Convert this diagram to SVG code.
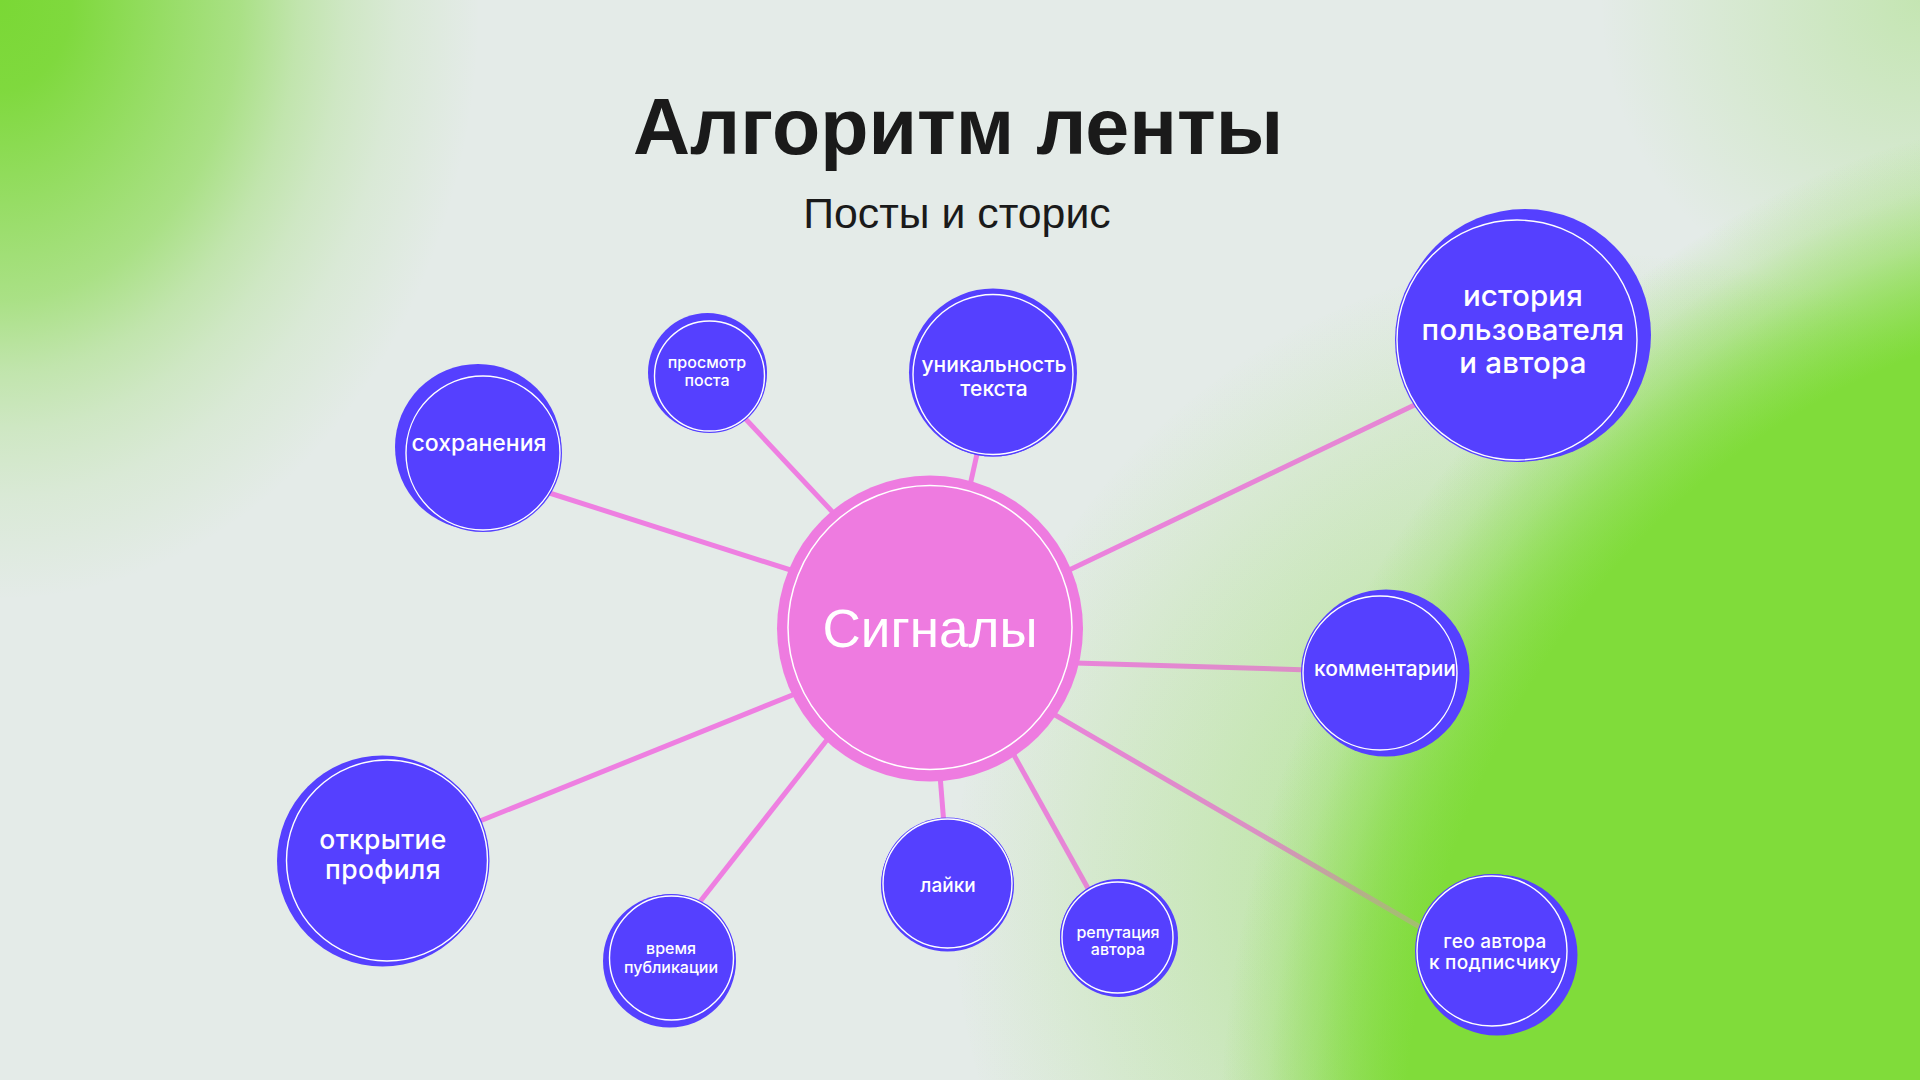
<svg xmlns="http://www.w3.org/2000/svg" width="1920" height="1080" viewBox="0 0 1920 1080">
  <defs>
    <radialGradient id="gTL" gradientUnits="userSpaceOnUse" cx="0" cy="0" r="1" gradientTransform="translate(0,0) scale(480,600)">
      <stop offset="0" stop-color="#7ad835" stop-opacity="1"/>
      <stop offset="0.15" stop-color="#7ad835" stop-opacity="0.95"/>
      <stop offset="0.35" stop-color="#7ad835" stop-opacity="0.72"/>
      <stop offset="0.5" stop-color="#7ad835" stop-opacity="0.55"/>
      <stop offset="0.62" stop-color="#7ad835" stop-opacity="0.33"/>
      <stop offset="0.72" stop-color="#7ad835" stop-opacity="0.2"/>
      <stop offset="0.83" stop-color="#7ad835" stop-opacity="0.1"/>
      <stop offset="1" stop-color="#7ad835" stop-opacity="0"/>
    </radialGradient>
    <radialGradient id="gTR" gradientUnits="userSpaceOnUse" cx="1920" cy="0" r="320">
      <stop offset="0" stop-color="#7ad835" stop-opacity="0.3"/>
      <stop offset="1" stop-color="#7ad835" stop-opacity="0"/>
    </radialGradient>
    <radialGradient id="gBRunder" gradientUnits="userSpaceOnUse" cx="0" cy="0" r="1" gradientTransform="translate(2150,1150) scale(931,1045)">
      <stop offset="0" stop-color="#80dc3a" stop-opacity="1"/>
      <stop offset="0.8" stop-color="#80dc3a" stop-opacity="1"/>
      <stop offset="0.85" stop-color="#80dc3a" stop-opacity="0.615"/>
      <stop offset="0.9" stop-color="#80dc3a" stop-opacity="0.286"/>
      <stop offset="0.95" stop-color="#80dc3a" stop-opacity="0.091"/>
      <stop offset="1" stop-color="#80dc3a" stop-opacity="0"/>
    </radialGradient>
    <radialGradient id="gBRover" gradientUnits="userSpaceOnUse" cx="0" cy="0" r="1" gradientTransform="translate(2150,1150) scale(931,1045)">
      <stop offset="0" stop-color="#80dc3a" stop-opacity="0.6"/>
      <stop offset="0.8" stop-color="#80dc3a" stop-opacity="0.6"/>
      <stop offset="0.85" stop-color="#80dc3a" stop-opacity="0.48"/>
      <stop offset="0.9" stop-color="#80dc3a" stop-opacity="0.3"/>
      <stop offset="0.95" stop-color="#80dc3a" stop-opacity="0.12"/>
      <stop offset="1" stop-color="#80dc3a" stop-opacity="0"/>
    </radialGradient>
    <radialGradient id="gTailUnder" gradientUnits="userSpaceOnUse" cx="1600" cy="900" r="650">
      <stop offset="0" stop-color="#80dc3a" stop-opacity="0.426"/>
      <stop offset="0.5" stop-color="#80dc3a" stop-opacity="0.161"/>
      <stop offset="1" stop-color="#80dc3a" stop-opacity="0"/>
    </radialGradient>
    <radialGradient id="gTailOver" gradientUnits="userSpaceOnUse" cx="1600" cy="900" r="650">
      <stop offset="0" stop-color="#80dc3a" stop-opacity="0.39"/>
      <stop offset="0.5" stop-color="#80dc3a" stop-opacity="0.195"/>
      <stop offset="1" stop-color="#80dc3a" stop-opacity="0"/>
    </radialGradient>
  </defs>
  <style>
    .blue { fill: #5540ff; }
    .ring { fill: none; stroke: #ffffff; stroke-width: 1.4; }
    .lbl { fill: #ffffff; font-family: Inter, "Liberation Sans", sans-serif; font-weight: 500; text-anchor: middle; }
    .conn { stroke: #ee7fe1; stroke-width: 5; stroke-linecap: butt; fill: none; }
    .title { fill: #1a1a1a; font-family: "Liberation Sans", Arial, sans-serif; text-anchor: middle; }
  </style>

  <g id="background">
    <rect x="0" y="0" width="1920" height="1080" fill="#e4ebe8"/>
    <rect x="0" y="0" width="1920" height="1080" fill="url(#gTL)"/>
    <rect x="0" y="0" width="1920" height="1080" fill="url(#gTR)"/>
    <rect x="0" y="0" width="1920" height="1080" fill="url(#gTailUnder)"/>
    <rect x="0" y="0" width="1920" height="1080" fill="url(#gBRunder)"/>
  </g>

  <g id="connectors">
    <line class="conn" x1="540" y1="490" x2="800" y2="573"/>
    <line class="conn" x1="740" y1="413" x2="840" y2="520"/>
    <line class="conn" x1="979" y1="445" x2="969" y2="490"/>
    <line class="conn" x1="1065" y1="572" x2="1425" y2="400"/>
    <line class="conn" x1="1075" y1="663" x2="1310" y2="670"/>
    <line class="conn" x1="1050" y1="712" x2="1425" y2="930"/>
    <line class="conn" x1="1010" y1="748" x2="1090" y2="892"/>
    <line class="conn" x1="940" y1="775" x2="944" y2="825"/>
    <line class="conn" x1="830" y1="736" x2="695" y2="908"/>
    <line class="conn" x1="800" y1="692" x2="470" y2="825"/>
  </g>

  <g id="green-glow">
    <rect x="0" y="0" width="1920" height="1080" fill="url(#gTailOver)"/>
    <rect x="0" y="0" width="1920" height="1080" fill="url(#gBRover)"/>
  </g>

  <g id="title">
    <text class="title" x="958" y="154" font-size="79" font-weight="700">Алгоритм ленты</text>
    <text class="title" x="957" y="228" font-size="42.8">Посты и сторис</text>
  </g>

  <g id="node-signals">
    <circle cx="930" cy="628.5" r="153" fill="#ee7be0"/>
    <circle cx="930" cy="627.5" r="142" fill="none" stroke="#ffffff" stroke-width="1.5"/>
    <text x="930" y="647" font-family="'Liberation Sans', Arial, sans-serif" font-size="53" fill="#ffffff" text-anchor="middle">Сигналы</text>
  </g>

  <g id="node-saves">
    <circle class="blue" cx="478" cy="447" r="83"/>
    <circle class="blue" cx="483" cy="453" r="79"/>
    <circle class="ring" cx="483" cy="453" r="77"/>
    <text class="lbl" x="479" y="451" font-size="23">сохранения</text>
  </g>

  <g id="node-post-view">
    <circle class="blue" cx="707.5" cy="372.5" r="59.5"/>
    <circle class="blue" cx="709.5" cy="376" r="57"/>
    <circle class="ring" cx="709.5" cy="376" r="55"/>
    <text class="lbl" font-size="16"><tspan x="707" y="368">просмотр</tspan><tspan x="707" y="386">поста</tspan></text>
  </g>

  <g id="node-uniqueness">
    <circle class="blue" cx="993" cy="372.5" r="84"/>
    <circle class="blue" cx="993" cy="374.5" r="82"/>
    <circle class="ring" cx="993" cy="374.5" r="80"/>
    <text class="lbl" font-size="21"><tspan x="994" y="372">уникальность</tspan><tspan x="994" y="396">текста</tspan></text>
  </g>

  <g id="node-history">
    <circle class="blue" cx="1525" cy="335" r="126"/>
    <circle class="blue" cx="1517" cy="340" r="122"/>
    <circle class="ring" cx="1517" cy="340" r="120"/>
    <text class="lbl" font-size="29.5" letter-spacing="0.2"><tspan x="1523" y="306">история</tspan><tspan x="1523" y="339.5">пользователя</tspan><tspan x="1523" y="373">и автора</tspan></text>
  </g>

  <g id="node-comments">
    <circle class="blue" cx="1386" cy="673" r="83.5"/>
    <circle class="blue" cx="1380" cy="673" r="79"/>
    <circle class="ring" cx="1380" cy="673" r="77"/>
    <text class="lbl" x="1385" y="676" font-size="21">комментарии</text>
  </g>

  <g id="node-geo">
    <circle class="blue" cx="1497" cy="955" r="80.5"/>
    <circle class="blue" cx="1492" cy="951" r="77"/>
    <circle class="ring" cx="1492" cy="951" r="75"/>
    <text class="lbl" font-size="19" letter-spacing="0.3"><tspan x="1495" y="947.5">гео автора</tspan><tspan x="1495" y="968.5">к подписчику</tspan></text>
  </g>

  <g id="node-reputation">
    <circle class="blue" cx="1119" cy="938" r="59"/>
    <circle class="blue" cx="1117.5" cy="937.5" r="57.5"/>
    <circle class="ring" cx="1117.5" cy="937.5" r="55.5"/>
    <text class="lbl" font-size="16"><tspan x="1118" y="938">репутация</tspan><tspan x="1118" y="955">автора</tspan></text>
  </g>

  <g id="node-likes">
    <circle class="blue" cx="947.5" cy="885" r="66.5"/>
    <circle class="blue" cx="947.5" cy="883.5" r="66"/>
    <circle class="ring" cx="947.5" cy="883.5" r="64.5"/>
    <text class="lbl" x="948" y="892" font-size="19">лайки</text>
  </g>

  <g id="node-publish-time">
    <circle class="blue" cx="669.5" cy="961" r="66.5"/>
    <circle class="blue" cx="671.5" cy="958" r="64"/>
    <circle class="ring" cx="671.5" cy="958" r="62"/>
    <text class="lbl" font-size="16"><tspan x="671" y="954">время</tspan><tspan x="671" y="973">публикации</tspan></text>
  </g>

  <g id="node-profile-open">
    <circle class="blue" cx="382.5" cy="861" r="105.5"/>
    <circle class="blue" cx="387" cy="860.5" r="102.5"/>
    <circle class="ring" cx="387" cy="860.5" r="100.5"/>
    <text class="lbl" font-size="26.5" letter-spacing="0.3"><tspan x="383" y="849">открытие</tspan><tspan x="383" y="879">профиля</tspan></text>
  </g>
</svg>
